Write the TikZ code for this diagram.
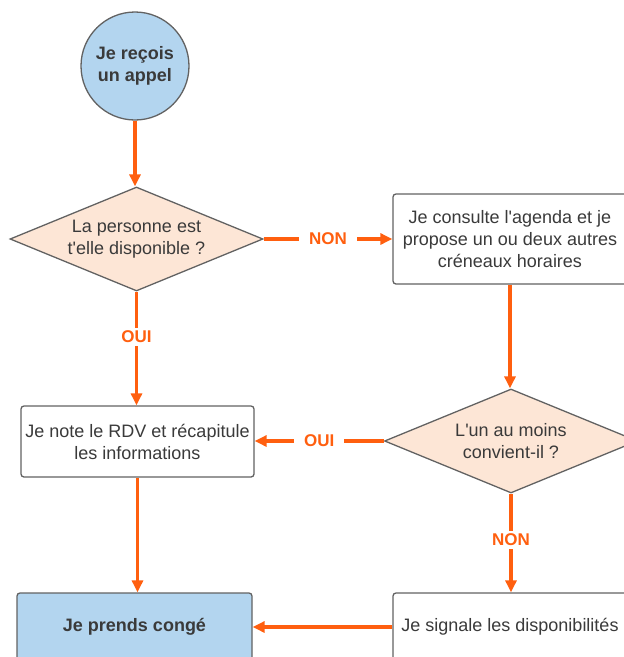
\documentclass[tikz,border=0pt]{standalone}
\usepackage{fontspec}
\setmainfont{Liberation Sans}
\usetikzlibrary{shapes.geometric,arrows.meta}
\definecolor{arr}{HTML}{FF5F0F}
\definecolor{bluefill}{HTML}{B3D5EF}
\definecolor{peach}{HTML}{FDE6D6}
\definecolor{edge}{HTML}{626262}
\definecolor{txt}{HTML}{3A3A3A}
\tikzset{
  base/.style={draw=edge, line width=1.3pt, text=txt, font=\fontsize{18}{22}\selectfont, align=center, inner sep=0pt},
  startnode/.style={base, circle, fill=bluefill, minimum size=108pt, font=\fontsize{18}{22}\selectfont\bfseries},
  decision/.style={base, diamond, aspect=2.43, fill=peach, minimum width=253pt, minimum height=104pt},
  procbox/.style={base, rectangle, rounded corners=3pt, fill=white},
  endbox/.style={base, rectangle, rounded corners=3pt, fill=bluefill, font=\fontsize{18}{22}\selectfont\bfseries},
  flow/.style={draw=arr, line width=3.2pt, -{Triangle[length=12pt,width=11pt]}},
  lab/.style={fill=white, text=arr, font=\fontsize{17}{20}\selectfont\bfseries, inner xsep=10pt, inner ysep=3pt}
}
\begin{document}
\begin{tikzpicture}[x=1pt,y=-1pt]
\useasboundingbox (0,0) rectangle (624,657);
\clip (0,0) rectangle (624,657);
\node[startnode] (start) at (135,66) {Je reçois\\un appel};
\node[decision] (d1) at (136.5,239) {La personne est\\t\textquotesingle elle disponible ?};
\node[procbox, minimum width=234pt, minimum height=90pt] (b1) at (510,239) {Je consulte l\textquotesingle agenda et je\\propose un ou deux autres\\créneaux horaires};
\node[decision] (d2) at (511,441) {L\textquotesingle un au moins\\convient-il ?};
\node[procbox, minimum width=233pt, minimum height=71pt] (b2) at (137.5,441.5) {Je note le RDV et récapitule\\les informations};
\node[endbox, minimum width=235pt, minimum height=68pt] (b3) at (134.5,627) {Je prends congé};
\node[procbox, minimum width=234pt, minimum height=68pt] (b4) at (510,627) {Je signale les disponibilités};

\draw[flow] (start.south) -- (start.south |- d1.north);
\draw[flow] (d1.east) -- node[lab]{NON} (b1.west);
\draw[flow] (b1.south) -- (b1.south |- d2.north);
\draw[flow] (d1.south) -- node[lab, pos=0.4]{OUI} (d1.south |- b2.north);
\draw[flow] (d2.west) -- node[lab]{OUI} (d2.west -| b2.east);
\draw[flow] (d2.south) -- node[lab, pos=0.47]{NON} (d2.south |- b4.north);
\draw[flow] (b2.south) -- (b2.south |- b3.north);
\draw[flow] (b4.west) -- (b4.west -| b3.east);
\end{tikzpicture}
\end{document}
